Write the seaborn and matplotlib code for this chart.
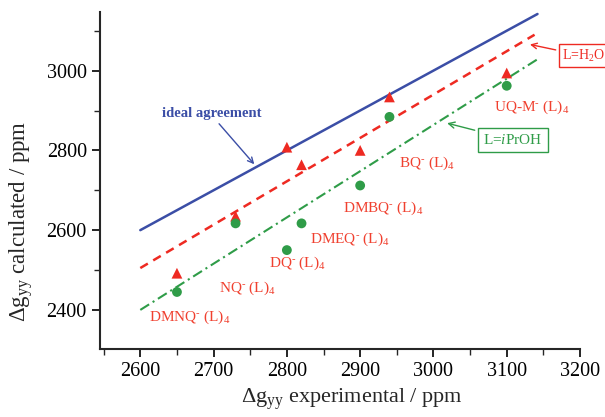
import matplotlib
matplotlib.use("Agg")
import matplotlib.pyplot as plt
import seaborn as sns
import pandas as pd

# ---- data ----
x_exp = [2650, 2730, 2800, 2820, 2900, 2940, 3100]
y_h2o = [2492, 2635, 2808, 2764, 2800, 2934, 2994]
y_iproh = [2445, 2617, 2550, 2617, 2712, 2884, 2962]
labels = ["DMNQ$^{\\text{-}}$ (L)$_4$", "NQ$^{\\text{-}}$ (L)$_4$", "DQ$^{\\text{-}}$ (L)$_4$",
          "DMEQ$^{\\text{-}}$ (L)$_4$", "DMBQ$^{\\text{-}}$ (L)$_4$", "BQ$^{\\text{-}}$ (L)$_4$",
          "UQ-M$^{\\text{-}}$ (L)$_4$"]
label_x = [2612, 2708, 2776, 2831, 2877, 2953, 3083]
label_y = [2382, 2455, 2517, 2577, 2655, 2767, 2908]

ideal_x = [2600, 3142]
ideal_y = [2600, 3142]
fit_h2o_x = [2600, 3138]
fit_h2o_y = [2505, 3090]
fit_iproh_x = [2600, 3145]
fit_iproh_y = [2400, 3032]

xticks = [2600, 2700, 2800, 2900, 3000, 3100, 3200]
yticks = [2400, 2600, 2800, 3000]

BLUE = "#3b4ea6"
RED = "#ee2a22"
GREEN = "#2f9c48"
TXTRED = "#f0402f"

sns.set_style("ticks")
plt.rcParams["font.family"] = ["Liberation Serif", "DejaVu Serif"]
plt.rcParams["mathtext.fontset"] = "custom"
plt.rcParams["mathtext.rm"] = "Liberation Serif"
plt.rcParams["mathtext.it"] = "Liberation Serif:italic"
plt.rcParams["mathtext.bf"] = "Liberation Serif:bold"

fig = plt.figure(figsize=(6.05, 4.17), dpi=100)
ax = fig.add_axes([100 / 605, 68 / 417, 480 / 605, 337 / 417])

sns.lineplot(x=ideal_x, y=ideal_y, ax=ax, color=BLUE, lw=1.8)
sns.lineplot(x=fit_h2o_x, y=fit_h2o_y, ax=ax, color=RED, lw=1.8, linestyle=(0, (3.5, 2.5)))
sns.lineplot(x=fit_iproh_x, y=fit_iproh_y, ax=ax, color=GREEN, lw=1.5, linestyle=(0, (5, 2, 1, 2)))

df = pd.DataFrame({"x": x_exp, "h2o": y_h2o, "iproh": y_iproh})
sns.scatterplot(data=df, x="x", y="h2o", ax=ax, marker="^", color=RED, s=60, edgecolor="none", zorder=5)
sns.scatterplot(data=df, x="x", y="iproh", ax=ax, marker="o", color=GREEN, s=50, edgecolor="none", zorder=5)

for t, lx, ly in zip(labels, label_x, label_y):
    ax.text(lx, ly, t, color=TXTRED, fontsize=11, ha="left", va="center")

ax.text(2630, 2892, "ideal agreement", color=BLUE, fontsize=10.5, fontweight="bold", ha="left", va="center")
ax.annotate("", xy=(2758, 2760), xytext=(2705, 2872),
            arrowprops=dict(arrowstyle="->", color=BLUE, lw=1.0))

ax.annotate("L=H$_2$O", xy=(3128, 3067), xytext=(3176, 3037), color=RED, fontsize=10,
            ha="left", va="center", annotation_clip=False,
            bbox=dict(boxstyle="square,pad=0.25", fc="white", ec=RED, lw=1.0),
            arrowprops=dict(arrowstyle="->", color=RED, lw=1.0))
ax.annotate("L=$i$PrOH", xy=(3015, 2870), xytext=(3068, 2826), color=GREEN, fontsize=11,
            ha="left", va="center", annotation_clip=False,
            bbox=dict(boxstyle="square,pad=0.35", fc="white", ec=GREEN, lw=1.0),
            arrowprops=dict(arrowstyle="->", color=GREEN, lw=1.0))

ax.set_xlim(2545, 3200)
ax.set_ylim(2302, 3147)
ax.set_xticks(xticks)
ax.set_yticks(yticks)
ax.set_xticks([2550, 2650, 2750, 2850, 2950, 3050, 3150], minor=True)
ax.set_yticks([2500, 2700, 2900, 3100], minor=True)
ax.tick_params(axis="both", which="major", labelsize=14.5, length=6, width=1.2, direction="out", colors="black")
ax.tick_params(axis="both", which="minor", length=4, width=1.0, direction="out")
ax.set_xlabel(r"$\Delta$g$_{\rm yy}$ experimental / ppm", fontsize=16)
ax.set_ylabel(r"$\Delta$g$_{\rm yy}$ calculated / ppm", fontsize=16.5)
ax.xaxis.set_label_coords(0.525, -0.11)
ax.yaxis.set_label_coords(-0.135, 0.38)
sns.despine(ax=ax)
for s in ["left", "bottom"]:
    ax.spines[s].set_linewidth(1.5)

fig.savefig("out.png", dpi=100)
